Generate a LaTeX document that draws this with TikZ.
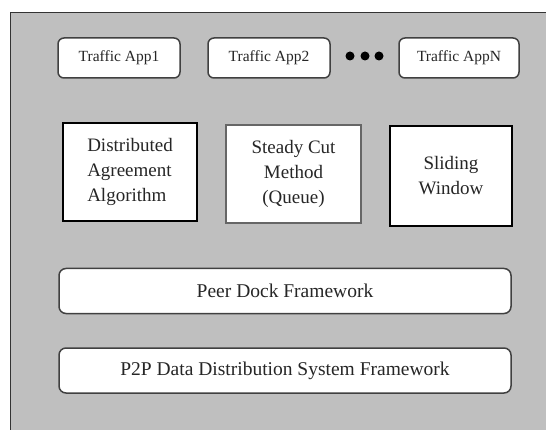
\documentclass[tikz,border=0pt]{standalone}
\usepackage{fontspec}
\setmainfont{Liberation Serif}
\begin{document}
\begin{tikzpicture}[x=1pt,y=-1pt,
  appbox/.style={draw=black!75, line width=1.5pt, fill=white, rounded corners=6pt,
    inner sep=0pt, minimum width=#1, minimum height=40pt,
    font=\fontsize{15.5}{18}\selectfont, text=black!85},
  appbox/.default=121pt,
  modbox/.style={draw=black, line width=1.2pt, fill=white, inner sep=0pt,
    font=\fontsize{19}{25}\selectfont, text=black!85},
  layerbox/.style={draw=black!75, line width=1.5pt, fill=white, rounded corners=7pt,
    inner sep=0pt, minimum width=452pt, minimum height=45pt,
    font=\fontsize{19.5}{22}\selectfont, text=black!85},
  dot/.style={circle, fill=black, inner sep=0pt, minimum size=9pt}]
  \useasboundingbox (0,0) rectangle (546,430);
  % grey backdrop, open towards the right and bottom edges
  \fill[gray!50] (10,12.5) rectangle (546,430);
  \draw[black!80, line width=1pt] (10,430) -- (10,12.5) -- (546,12.5);

  % application layer
  \node[appbox=122pt] (app1) at (119,58) {Traffic App1};
  \node[appbox=122pt] (app2) at (269,58) {Traffic App2};
  \node[appbox=120pt] (appn) at (459,58) {Traffic AppN};
  \node[dot] (d1) at (350,56) {};
  \node[dot] (d2) at (365,56) {};
  \node[dot] (d3) at (379,56) {};

  % algorithm modules
  \node[modbox, minimum width=134pt, minimum height=98pt, align=left] (dist) at (130,172)
    {Distributed\\Agreement\\Algorithm};
  \node[modbox, draw=black!60, line width=1.5pt, minimum width=135pt, minimum height=98pt,
    align=center] (cut) at (293.5,174) {Steady Cut\\Method\\(Queue)};
  \node[modbox, line width=2.2pt, minimum width=122pt, minimum height=100pt,
    align=center] (slide) at (451,176) {Sliding\\Window};

  % framework layers
  \node[layerbox] (dock) at (285,291) {Peer Dock Framework};
  \node[layerbox] (p2p) at (285,370.5) {P2P Data Distribution System Framework};
\end{tikzpicture}
\end{document}
